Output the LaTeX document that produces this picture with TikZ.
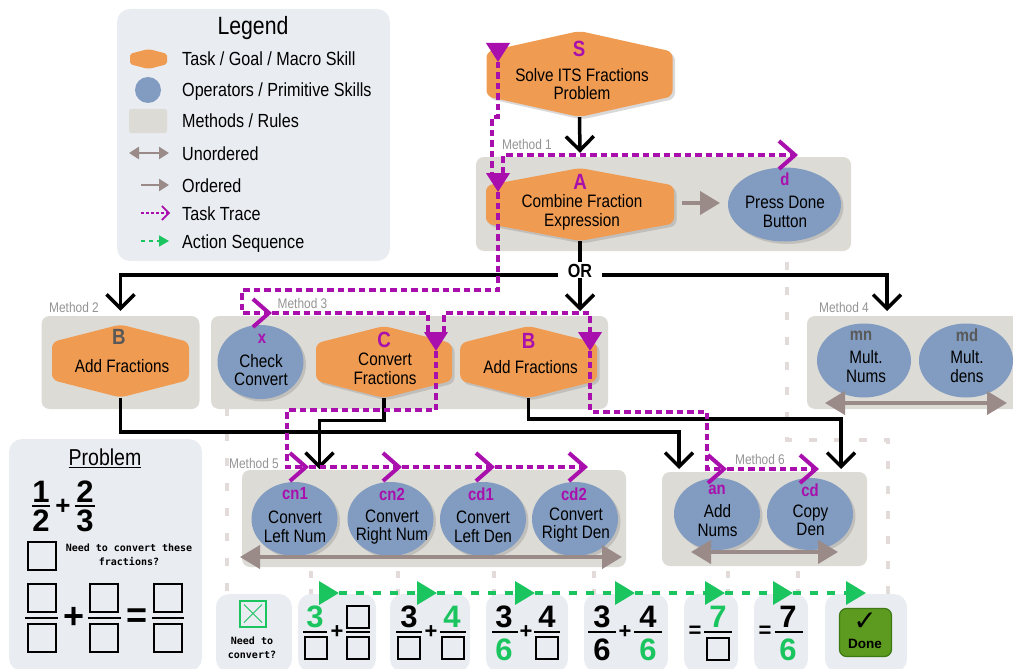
\documentclass[tikz,border=0pt]{standalone}
\usepackage{fontspec}
\setmainfont[FakeStretch=0.85]{Liberation Sans}
\newfontfamily\digitfont{Liberation Sans}
\newfontfamily\codefont{DejaVu Sans Mono}
\newfontfamily\symfont{DejaVu Sans}
\usetikzlibrary{arrows.meta,calc,shadows,shapes.geometric}
\definecolor{taskorange}{HTML}{F09B52}
\definecolor{opblue}{HTML}{819CC0}
\definecolor{methodgrey}{HTML}{DCDBD6}
\definecolor{panelgrey}{HTML}{E9ECF1}
\definecolor{orderbrown}{HTML}{9A8A88}
\definecolor{tracepurple}{HTML}{A90FAD}
\definecolor{actiongreen}{HTML}{1AC45E}
\definecolor{guidepink}{HTML}{E3DADA}
\definecolor{donegreen}{HTML}{5C9A20}
\definecolor{doneedge}{HTML}{3E7A14}
\tikzset{
	raised/.style={drop shadow={shadow xshift=2.5pt,shadow yshift=-2.5pt,opacity=.3}},
	taskshape/.style={fill=taskorange,rounded corners=6pt},
	skill/.style={ellipse,fill=opblue,inner sep=0,minimum width=86pt,minimum height=74pt},
	bigskill/.style={skill,minimum width=94pt},
	methodbox/.style={fill=methodgrey,rounded corners=8pt,inner sep=0},
	panel/.style={fill=panelgrey,rounded corners=13pt,inner sep=0},
	body/.style={font=\fontsize{18}{18.5}\selectfont,align=center,inner sep=0},
	keytext/.style={font=\fontsize{19}{19}\selectfont,anchor=west,inner sep=0,text height=14pt,text depth=0pt},
	tag/.style={font=\fontsize{22}{22}\selectfont\bfseries,text=tracepurple,inner sep=0},
	smalltag/.style={font=\fontsize{17.5}{18}\selectfont\bfseries,text=tracepurple,inner sep=0},
	greytag/.style={smalltag,text=black!65},
	methodlabel/.style={font=\fontsize{14}{14}\selectfont,text=black!42,inner sep=0},
	call/.style={line width=3.5pt,-{Straight Barb[length=14pt,width=28pt]}},
	blackline/.style={line width=3.5pt},
	order/.style={line width=4pt,color=orderbrown,-{Triangle[length=20pt,width=23pt]}},
	unorder/.style={line width=4pt,color=orderbrown,{Triangle[length=20pt,width=23pt]}-{Triangle[length=20pt,width=23pt]}},
	trace/.style={line width=4pt,color=tracepurple,dash pattern=on 6.5pt off 4pt},
	tracebarb/.style={trace,-{Straight Barb[length=16pt,width=28pt]}},
	tracedrop/.style={trace,-{Triangle[length=19pt,width=23pt]}},
	action/.style={line width=3.5pt,color=actiongreen,dash pattern=on 8pt off 9pt,-{Triangle[length=20pt,width=23pt]}},
	guide/.style={line width=4pt,color=guidepink,dash pattern=on 8pt off 17pt},
	shortguide/.style={line width=4pt,color=guidepink,dash pattern=on 7pt off 11pt},
	digit/.style={font=\digitfont\fontsize{31}{31}\selectfont\bfseries,inner sep=0},
	greendigit/.style={digit,text=actiongreen},
	mathsign/.style={font=\digitfont\fontsize{22}{22}\selectfont\bfseries,inner sep=0},
	slot/.style={draw,line width=2pt,inner sep=0,minimum size=22pt},
	bigslot/.style={slot,minimum size=28pt},
	bigsign/.style={font=\digitfont\fontsize{36}{36}\selectfont\bfseries,inner sep=0},
	fracbar/.style={line width=2pt},
	bigbar/.style={line width=2.5pt},
	note/.style={font=\codefont\fontsize{10}{14}\selectfont\bfseries,align=center,inner sep=0}
}
\def\taskhex[#1](#2,#3)(#4,#5)#6{
	\fill[#1] ({#2-#4},{#3-0.52*#5}) -- (#2,{#3-#5}) -- ({#2+#4},{#3-0.52*#5}) -- ({#2+#4},{#3+0.52*#5}) -- (#2,{#3+#5}) -- ({#2-#4},{#3+0.52*#5}) -- cycle;
	\node[inner sep=0,minimum width={2*#4*1pt},minimum height={2*#5*1pt}] (#6) at (#2,#3) {};
}

\begin{document}
\begin{tikzpicture}[x=1pt,y=-1pt]
	\useasboundingbox (0,0) rectangle (1013,669);
	\clip (0,0) rectangle (1013,669);

	%%%%% guides %%%%%
	\draw[guide] (787,262) -- (787,440) -- (888,440) -- (888,600);
	\draw[guide] (227,408) -- (227,600);
	\draw[shortguide] (311,571) -- (311,600);
	\draw[shortguide] (398,571) -- (398,600);
	\draw[shortguide] (494,571) -- (494,600);
	\draw[shortguide] (594,571) -- (594,600);
	\draw[shortguide] (728,571) -- (728,600);
	\draw[shortguide] (798,571) -- (798,600);

	%%%%% legend %%%%%
	\node[panel,minimum width=273pt,minimum height=252pt] (legendbox) at (253.5,135) {};
	\node[font=\fontsize{25}{25}\selectfont,inner sep=0] (legendtitle) at (253,28) {Legend};
	\taskhex[taskshape,rounded corners=2pt](148.5,59)(18.5,10){keyhex}
	\node[ellipse,fill=opblue,inner sep=0,minimum size=26pt] (keyop) at (148,90) {};
	\node[fill=methodgrey,rounded corners=2pt,inner sep=0,minimum width=38pt,minimum height=24pt] (keymethod) at (148,121) {};
	\coordinate (keyunL) at (129,153);
	\coordinate (keyunR) at (169,153);
	\coordinate (keyorL) at (141,185);
	\coordinate (keyorR) at (169,185);
	\coordinate (keytrL) at (141,213);
	\coordinate (keytrR) at (170,213);
	\coordinate (keyacL) at (141,241);
	\coordinate (keyacR) at (169,241);
	\draw[line width=2.5pt,color=orderbrown,{Triangle[length=10pt,width=12pt]}-{Triangle[length=10pt,width=12pt]}] (keyunL) -- (keyunR);
	\draw[line width=2.5pt,color=orderbrown,-{Triangle[length=10pt,width=12pt]}] (keyorL) -- (keyorR);
	\draw[line width=1.6pt,color=tracepurple,dash pattern=on 3pt off 2pt,-{Straight Barb[length=7pt,width=14pt]}] (keytrL) -- (keytrR);
	\draw[line width=1.6pt,color=actiongreen,dash pattern=on 4pt off 4pt,-{Triangle[length=10pt,width=11pt]}] (keyacL) -- (keyacR);
	\node[keytext] (keyt1) at (182,59) {Task / Goal / Macro Skill};
	\node[keytext] (keyt2) at (182,89) {Operators / Primitive Skills};
	\node[keytext] (keyt3) at (182,121) {Methods / Rules};
	\node[keytext] (keyt4) at (182,153) {Unordered};
	\node[keytext] (keyt5) at (182,185) {Ordered};
	\node[keytext] (keyt6) at (182,213) {Task Trace};
	\node[keytext] (keyt7) at (182,241) {Action Sequence};

	%%%%% method boxes %%%%%
	\node[methodbox,minimum width=375pt,minimum height=94pt] (m1) at (663.5,204) {};
	\node[methodbox,minimum width=158pt,minimum height=93pt] (m2) at (120.5,362.5) {};
	\node[methodbox,minimum width=397pt,minimum height=93pt] (m3) at (409.5,362.5) {};
	\node[methodbox,minimum width=223pt,minimum height=93pt] (m4) at (918.5,362.5) {};
	\node[methodbox,minimum width=384pt,minimum height=97pt] (m5) at (434,518.5) {};
	\node[methodbox,minimum width=205pt,minimum height=94pt] (m6) at (764.5,519) {};
	\node[methodlabel] (m1lbl) at (527,144) {Method 1};
	\node[methodlabel] (m2lbl) at (74,307) {Method 2};
	\node[methodlabel] (m3lbl) at (302.5,303) {Method 3};
	\node[methodlabel] (m4lbl) at (844,307) {Method 4};
	\node[methodlabel] (m5lbl) at (254,463) {Method 5};
	\node[methodlabel] (m6lbl) at (760,459) {Method 6};

	%%%%% tasks %%%%%
	\taskhex[taskshape,raised](579.5,74)(93,43){S}
	\node[tag] (Stag) at (579,49) {S};
	\node[body] (Stxt) at (582,84) {Solve ITS Fractions\\Problem};

	\taskhex[taskshape,raised](580,204.5)(94,36.5){A}
	\node[tag] (Atag) at (580,182) {A};
	\node[body] (Atxt) at (582,212.5) {Combine Fraction\\Expression};

	\taskhex[taskshape](120.5,361)(68.5,36.5){Bleft}
	\node[tag,text=black!65] (Blefttag) at (119,337) {B};
	\node[body] (Blefttxt) at (122,366) {Add Fractions};

	\taskhex[taskshape,raised](384,362)(68,36){C}
	\node[tag] (Ctag) at (384,339.5) {C};
	\node[body] (Ctxt) at (385,369) {Convert\\Fractions};

	\taskhex[taskshape,raised](528.7,362)(68.5,36){Bright}
	\node[tag] (Brighttag) at (528.6,341) {B};
	\node[body] (Brighttxt) at (530.6,367) {Add Fractions};

	%%%%% operators %%%%%
	\node[skill,raised,minimum width=113pt] (d) at (784.5,204.5) {};
	\node[smalltag] (dtag) at (785,179) {d};
	\node[body] (dtxt) at (785,212) {Press Done\\Button};

	\node[skill,raised] (x) at (260.5,362) {};
	\node[smalltag] (xtag) at (262,339) {x};
	\node[body] (xtxt) at (261,370) {Check\\Convert};

	\node[bigskill] (mn) at (864,360.5) {};
	\node[greytag] (mntag) at (861,336) {mn};
	\node[body] (mntxt) at (866,366.5) {Mult.\\Nums};
	\node[bigskill] (md) at (966,360.5) {};
	\node[greytag] (mdtag) at (967,335) {md};
	\node[body] (mdtxt) at (967,366.5) {Mult.\\dens};

	\node[skill,raised] (cn1) at (294.5,519) {};
	\node[smalltag] (cn1tag) at (295,494) {cn1};
	\node[body] (cn1txt) at (295,527) {Convert\\Left Num};
	\node[skill,raised] (cn2) at (390.5,519) {};
	\node[smalltag] (cn2tag) at (392,494) {cn2};
	\node[body] (cn2txt) at (392,527) {Convert\\Right Num};
	\node[skill,raised] (cd1) at (483,519) {};
	\node[smalltag] (cd1tag) at (481,494) {cd1};
	\node[body] (cd1txt) at (483,527) {Convert\\Left Den};
	\node[skill,raised] (cd2) at (575,519) {};
	\node[smalltag] (cd2tag) at (574,494) {cd2};
	\node[body] (cd2txt) at (576,525) {Convert\\Right Den};

	\node[skill,raised,minimum height=72pt] (an) at (717,514) {};
	\node[smalltag] (antag) at (717,490) {an};
	\node[body] (antxt) at (717.5,520.5) {Add\\Nums};
	\node[skill,raised,minimum height=72pt] (cd) at (810,514) {};
	\node[smalltag] (cdtag) at (810,490) {cd};
	\node[body] (cdtxt) at (810.5,520.5) {Copy\\Den};

	%%%%% ordering arrows %%%%%
	\coordinate (dgap) at (720,203);
	\draw[order] (682,203) -- (dgap);
	\coordinate (m4L) at (825,403);
	\coordinate (m4R) at (1007,403);
	\coordinate (m5L) at (240,557);
	\coordinate (m5R) at (622,557);
	\coordinate (m6L) at (691,552);
	\coordinate (m6R) at (838,552);
	\draw[unorder] (m4L) -- (m4R);
	\draw[unorder] (m5L) -- (m5R);
	\draw[unorder] (m6L) -- (m6R);

	%%%%% decomposition %%%%%
	\node[font=\fontsize{19}{19}\selectfont\bfseries,inner sep=0] (OR) at (580,271) {OR};
	\coordinate (orleft) at (558,275);
	\coordinate (orright) at (602,275);
	\coordinate (m3in) at (580,311);
	\coordinate (m4in) at (887,311);
	\coordinate (m5in) at (319.5,469);
	\coordinate (m6a) at (679,469);
	\coordinate (m6b) at (841,469);
	\draw[call] (S.south) -- ([yshift=15pt]A.north);
	\draw[blackline] (A.south) -- ([yshift=2pt]OR.north);
	\draw[call] (orleft) -| ([yshift=5pt]m2.north);
	\draw[call] (OR.south) -- (m3in);
	\draw[call] (orright) -| (m4in);
	\draw[call] (C.south) |- (319.5,420.5) -- (m5in);
	\draw[call] (Bleft.south) |- (679,432) -- (m6a);
	\draw[call] (Bright.south) |- (841,419) -- (m6b);

	%%%%% trace %%%%%
	\coordinate (tS) at (498,62);
	\coordinate (tA) at (498,192);
	\coordinate (td) at (798,155);
	\coordinate (tx) at (272,313);
	\coordinate (tC) at (436,351);
	\coordinate (tB) at (590,351);
	\coordinate (tcn1) at (309,467);
	\coordinate (tcn2) at (402,467);
	\coordinate (tcd1) at (495,467);
	\coordinate (tcd2) at (588,467);
	\coordinate (tan) at (727,469);
	\coordinate (tcd) at (819,469);
	\draw[tracedrop,dash pattern=] ([yshift=19pt]tS) -- (tS);
	\draw[trace] (tS) -- (498,117) -- (492,117) -- (492,173);
	\draw[tracedrop,dash pattern=] ([yshift=19pt]tA) -- (tA);
	\draw[tracebarb] (503,173) |- (td);
	\draw[tracebarb] (tA) |- (242,290) |- (tx);
	\draw[trace] (tx) -| (428,332);
	\draw[tracedrop,dash pattern=] ([yshift=19pt]tC) -- (tC);
	\draw[tracedrop] (444,332) |- (590,313) -- (tB);
	\draw[tracebarb] (tC) |- (287,410) |- (tcn1);
	\draw[tracebarb] (tcn1) -- (tcn2);
	\draw[tracebarb] (tcn2) -- (tcd1);
	\draw[tracebarb] (tcd1) -- (tcd2);
	\draw[tracebarb] (tB) |- (707,411.5) |- (tan);
	\draw[tracebarb] (tan) -- (tcd);

	%%%%% problem %%%%%
	\node[panel,minimum width=193pt,minimum height=232pt] (problembox) at (105.5,555) {};
	\node[font=\fontsize{23}{23}\selectfont,inner sep=0] (problemtitle) at (105,458) {\underline{Problem}};
	\node[digit] (p1) at (41,491.5) {1};
	\node[digit] (p2) at (41,520.5) {2};
	\node[mathsign,font=\digitfont\fontsize{26}{26}\selectfont\bfseries] (p3) at (63,507) {+};
	\node[digit] (p4) at (85,491.5) {2};
	\node[digit] (p5) at (85,520.5) {3};
	\draw[line width=2pt] (32,505.5) -- (50,505.5);
	\draw[line width=2pt] (75,505.5) -- (95,505.5);
	\node[bigslot] (pcheck) at (42,555.5) {};
	\node[note] (pquestion) at (129,555) {Need to convert these\\fractions?};
	\node[bigslot] (pa1) at (42,598) {};
	\node[bigslot] (pa2) at (42,637.5) {};
	\draw[bigbar] (25,618) -- (58,618);
	\node[bigsign] (pplus) at (74,618) {+};
	\node[bigslot] (pb1) at (104,598) {};
	\node[bigslot] (pb2) at (104,637.5) {};
	\draw[bigbar] (88,618) -- (121,618);
	\node[bigsign] (pequal) at (137,618) {=};
	\node[bigslot] (pc1) at (168,598) {};
	\node[bigslot] (pc2) at (168,637.5) {};
	\draw[bigbar] (152,618) -- (184,618);

	%%%%% action cards %%%%%
	\node[panel,minimum width=76pt,minimum height=78pt] (card1) at (254,633) {};
	\node[panel,minimum width=78pt,minimum height=78pt] (card2) at (337,633) {};
	\node[panel,minimum width=80pt,minimum height=78pt] (card3) at (430,633) {};
	\node[panel,minimum width=82pt,minimum height=78pt] (card4) at (527,633) {};
	\node[panel,minimum width=84pt,minimum height=78pt] (card5) at (626,633) {};
	\node[panel,minimum width=54pt,minimum height=78pt] (card6) at (711,633) {};
	\node[panel,minimum width=54pt,minimum height=78pt] (card7) at (781,633) {};
	\node[panel,minimum width=82pt,minimum height=78pt] (card8) at (866,633) {};

	\node[draw=actiongreen,line width=2pt,inner sep=0,minimum size=26pt] (checkbox) at (253,613.5) {};
	\draw[actiongreen,line width=1pt] (checkbox.south west) ++(5,-5) -- ($(checkbox.north east)+(-5,5)$);
	\draw[actiongreen,line width=1pt] (checkbox.north west) ++(5,5) -- ($(checkbox.south east)+(-5,-5)$);
	\node[note] (checktxt) at (252,647.5) {Need to\\convert?};

	\node[greendigit] (c2a) at (315,617) {3};
	\node[slot] (c2b) at (315.5,648) {};
	\draw[fracbar] (303,632) -- (327,632);
	\node[mathsign] (c2p) at (337,632) {+};
	\node[slot] (c2c) at (358,616.5) {};
	\node[slot] (c2d) at (358,648) {};
	\draw[fracbar] (346,632) -- (370,632);

	\node[digit] (c3a) at (409,617) {3};
	\node[slot] (c3b) at (409,648) {};
	\draw[fracbar] (396,632) -- (422,632);
	\node[mathsign] (c3p) at (431,632) {+};
	\node[greendigit] (c3c) at (452,617) {4};
	\node[slot] (c3d) at (453,648) {};
	\draw[fracbar] (440,632) -- (466,632);

	\node[digit] (c4a) at (504,617) {3};
	\node[greendigit] (c4b) at (504,650) {6};
	\draw[fracbar] (492,632) -- (518,632);
	\node[mathsign] (c4p) at (526,632) {+};
	\node[digit] (c4c) at (547,617) {4};
	\node[slot] (c4d) at (547,648) {};
	\draw[fracbar] (534,632) -- (560,632);

	\node[digit] (c5a) at (602,617) {3};
	\node[digit] (c5b) at (602,650) {6};
	\draw[fracbar] (588,632) -- (616,632);
	\node[mathsign] (c5p) at (625,632) {+};
	\node[digit] (c5c) at (648,617) {4};
	\node[greendigit] (c5d) at (648,650) {6};
	\draw[fracbar] (634,632) -- (662,632);

	\node[mathsign] (c6e) at (695,632) {=};
	\node[greendigit] (c6a) at (718,617) {7};
	\node[slot] (c6b) at (718,648.5) {};
	\draw[fracbar] (704,632) -- (732,632);

	\node[mathsign] (c7e) at (765,632) {=};
	\node[digit] (c7a) at (788,617) {7};
	\node[greendigit] (c7b) at (788,650) {6};
	\draw[fracbar] (775,632) -- (803,632);

	\node[fill=donegreen,draw=doneedge,line width=1.2pt,rounded corners=7pt,inner sep=0,minimum width=52pt,minimum height=48pt] (donebtn) at (865.5,632.5) {};
	\node[font=\symfont\fontsize{28}{28}\selectfont\bfseries,inner sep=0] (donecheck) at (865,622) {\char"2713};
	\node[font=\digitfont\fontsize{13.5}{13.5}\selectfont\bfseries,inner sep=0] (donetxt) at (865,644) {Done};

	%%%%% action sequence %%%%%
	\coordinate (g0) at (319,593);
	\coordinate (g1) at (339,593);
	\coordinate (g2) at (437,593);
	\coordinate (g3) at (535,593);
	\coordinate (g4) at (635,593);
	\coordinate (g5) at (725,593);
	\coordinate (g6) at (793,593);
	\coordinate (g7) at (866,593);
	\draw[action,dash pattern=] (g0) -- (g1);
	\draw[action] (g1) -- (g2);
	\draw[action] (g2) -- (g3);
	\draw[action] (g3) -- (g4);
	\draw[action] (g4) -- (g5);
	\draw[action] (g5) -- (g6);
	\draw[action] (g6) -- (g7);
\end{tikzpicture}
\end{document}
